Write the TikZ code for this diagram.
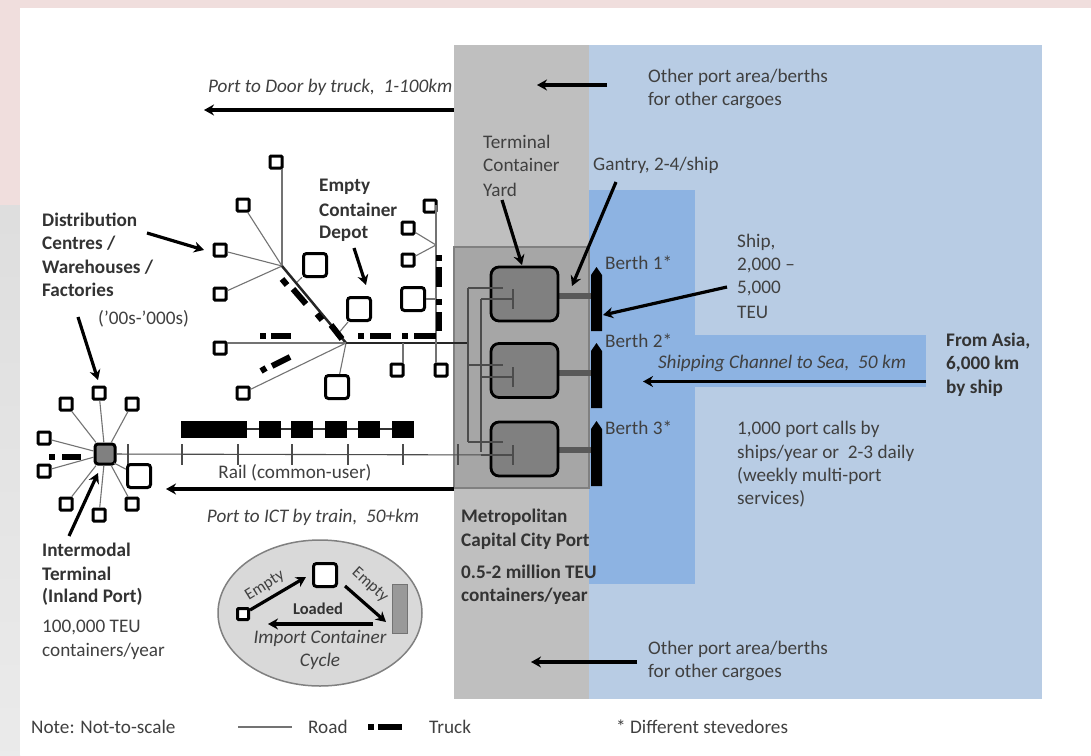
\documentclass[tikz,border=0pt]{standalone}
\usepackage{fontspec}
\setmainfont{Carlito}
\usetikzlibrary{arrows.meta,shapes.geometric}
\definecolor{txt}{HTML}{404040}
\definecolor{portgray}{HTML}{BFBFBF}
\definecolor{paleblue}{HTML}{B8CCE4}
\definecolor{midblue}{HTML}{8DB3E2}
\definecolor{pinkbg}{HTML}{F0DEDD}
\tikzset{
 lbl/.style={font=\fontsize{19.2}{22}\selectfont,text=txt,anchor=west,inner sep=0pt},
 lblb/.style={lbl,font=\fontsize{19.2}{22}\selectfont\bfseries,text=black!80},
 lbli/.style={lbl,font=\fontsize{19.2}{22}\selectfont\itshape},
 lblc/.style={lbl,anchor=center},
 smallsq/.style={draw=black,line width=3pt,fill=white,minimum size=12pt,inner sep=0pt,rounded corners=1pt},
 bigsq/.style={draw=black,line width=3pt,fill=white,minimum size=23pt,inner sep=0pt,rounded corners=3pt},
 yardbox/.style={draw=black,line width=2.8pt,fill=black!50,minimum width=67pt,minimum height=54pt,inner sep=0pt,rounded corners=8pt},
 road/.style={draw=black!55,line width=1.1pt},
 mainroad/.style={draw=black!85,line width=2.5pt},
 railline/.style={draw=black!70,line width=1.1pt},
 truckb/.style={draw=black,line width=6pt},
 fat/.style={draw=black,line width=3.2pt,-{Stealth[length=10pt,width=11pt]}},
 gantrybar/.style={draw=black!65,line width=6pt},
 shipshape/.style={fill=black},
 car/.style={fill=black,inner sep=0pt,minimum height=17pt},
}
\newcommand{\farrow}[3]{\coordinate (#1s) at (#2);\coordinate (#1e) at (#3);\draw[fat] (#1s) -- (#1e);}
\newcommand{\truck}[3]{\coordinate (#1a) at (#2);\coordinate (#1b) at (#3);\draw[truckb] (#1a) -- (#1b);}
\begin{document}
\begin{tikzpicture}[x=1pt,y=-1pt]
\useasboundingbox (0,0) rectangle (1091,755);
% page backgrounds
\fill[pinkbg] (0,0) rectangle (1091,755);
\shade[top color=black!13,bottom color=black!8] (0,205) rectangle (20,755);
\fill[white] (20,8) rectangle (1091,755);
% port and water areas
\fill[portgray] (454,45) rectangle (589,699);
\fill[paleblue] (589,45) rectangle (1042,699);
\fill[midblue] (589,190) rectangle (695,584);
\fill[midblue] (589,335) rectangle (926,387);
\draw[fill=black!35,draw=black!50,line width=1.2pt] (454,247) rectangle (589,488);
% gantries, ships
\foreach \n/\yy in {1/295.5,2/373,3/450}{
  \coordinate (gs\n) at (559,\yy); \coordinate (ge\n) at (591,\yy);
  \draw[gantrybar] (gs\n) -- (ge\n);
}
\fill[shipshape] (591,331) -- (591,275) -- (596.5,267) -- (602,275) -- (602,331) -- cycle;
\fill[shipshape] (591,408) -- (591,351) -- (596.5,343) -- (602,351) -- (602,408) -- cycle;
\fill[shipshape] (591,486) -- (591,429) -- (596.5,421) -- (602,429) -- (602,486) -- cycle;
% yards
\node[yardbox] (y1) at (524.5,294) {};
\node[yardbox] (y2) at (524.5,370.5) {};
\node[yardbox] (y3) at (524.5,449) {};
% city network nodes
\coordinate (J1) at (282,266);
\coordinate (J2) at (346,343);
\coordinate (J3) at (436,245);
\coordinate (Jt) at (468,343);
\node[smallsq] (s1) at (276,162) {};
\node[smallsq] (s2) at (243,205) {};
\node[smallsq] (s3) at (220,250) {};
\node[smallsq] (s4) at (220,294) {};
\node[smallsq] (s5) at (220,348) {};
\node[smallsq] (s6) at (243,393) {};
\node[smallsq] (s7) at (397,370) {};
\node[smallsq] (s8) at (441,370) {};
\node[smallsq] (s9) at (430,206) {};
\node[smallsq] (s10) at (408,228) {};
\node[smallsq] (s11) at (408,260) {};
\node[bigsq] (b1) at (315,265) {};
\node[bigsq] (b2) at (359,309) {};
\node[bigsq] (b3) at (337,387) {};
\node[bigsq] (b4) at (413,299) {};
% roads
\coordinate (r1) at (282,169);
\draw[road] (r1) -- (J1);
\draw[road] (s2) -- (J1);
\draw[road] (s3) -- (J1);
\draw[road] (s4) -- (J1);
\coordinate (bj1) at (297,282);
\draw[road] (b1) -- (bj1);
\coordinate (bj2) at (337,335);
\draw[road] (b2) -- (bj2);
\draw[mainroad] (J1) -- (J2);
\coordinate (r5) at (228,343);
\draw[road] (r5) -- (J2);
\draw[road] (s6) -- (J2);
\draw[road] (b3) -- (J2);
\draw[mainroad] (J2) -- (Jt);
\coordinate (k7) at (403,343);
\coordinate (k7b) at (403,363);
\draw[road] (k7) -- (k7b);
\coordinate (v9t) at (436,205);
\coordinate (v9b) at (436,363);
\draw[road] (v9t) -- (v9b);
\draw[road] (s10) -- (J3);
\draw[road] (s11) -- (J3);
\coordinate (v4) at (436,299);
\draw[road] (b4) -- (v4);
% trucks
\truck{ta}{282,279}{287,285}
\truck{tb}{293,289}{306,304}
\truck{tc}{317,314}{322,320}
\truck{td}{331,325}{342,339}
\truck{te}{358,336}{364,336}
\truck{tf}{370,336}{391,336}
\truck{tg}{402,336}{408,336}
\truck{th}{414,336}{436,336}
\truck{ti}{260,336}{266,336}
\truck{tj}{271,336}{291,336}
\truck{tk}{261,371}{266,368}
\truck{tl}{272,366}{290,357}
\truck{tm}{439,255}{439,261}
\truck{tn}{439,267}{439,287}
\truck{to}{439,299}{439,305}
\truck{tp}{439,312}{439,331}
% terminal internal lines
\coordinate (ra) at (468,288);
\coordinate (rb) at (468,442);
\draw[railline] (ra) -- (rb);
\coordinate (ra2) at (503,288);
\coordinate (rb2) at (503,365);
\coordinate (rc2) at (503,442);
\draw[railline] (ra) -- (ra2);
\draw[railline] (468,365) -- (rb2);
\draw[railline] (rb) -- (rc2);
\coordinate (qa) at (481,299);
\coordinate (qb) at (481,452);
\draw[railline] (qa) -- (qb);
\foreach \yy in {299,377,455}{
  \draw[railline] (481,\yy) -- (513,\yy);
  \draw[railline] (513,\yy-10) -- (513,\yy+10);
}
% rail
\node[draw=black,line width=3pt,fill=black!50,minimum size=20pt,inner sep=0pt,rounded corners=3pt] (term) at (105,454) {};
\coordinate (railend) at (513,455);
\draw[railline] (term) -- (railend);
\foreach \xx in {128,182,238,292,348,403,458}{
  \draw[railline] (\xx,444) -- (\xx,465);
}
\coordinate (tr1) at (181,429);\coordinate (tr2) at (413,429);
\draw[draw=black!80,line width=1.2pt] (tr1) -- (tr2);
\node[car,minimum width=66pt,anchor=west] (c0) at (181,429.5) {};
\node[car,minimum width=22pt,anchor=west] (c1) at (259,429.5) {};
\node[car,minimum width=22pt,anchor=west] (c2) at (291,429.5) {};
\node[car,minimum width=22pt,anchor=west] (c3) at (325,429.5) {};
\node[car,minimum width=22pt,anchor=west] (c4) at (358,429.5) {};
\node[car,minimum width=22pt,anchor=west] (c5) at (392,429.5) {};
% intermodal terminal spokes
\node[smallsq] (i1) at (99,393) {};
\node[smallsq] (i2) at (66,404) {};
\node[smallsq] (i3) at (132,404) {};
\node[smallsq] (i4) at (44,438) {};
\node[smallsq] (i5) at (44,471) {};
\node[smallsq] (i6) at (66,504) {};
\node[smallsq] (i7) at (99,515) {};
\node[smallsq] (i8) at (132,504) {};
\node[bigsq] (i9) at (139,476) {};
\foreach \n in {1,...,8}{\draw[road] (i\n) -- (term);}
\coordinate (i9j) at (114,463);
\draw[road] (i9) -- (i9j);
\truck{tq}{49,457}{55,457}
\truck{tr}{62,457}{81,457}
% big arrows
\farrow{a1}{454,110}{204,110}
\farrow{a2}{607,85}{537,85}
\farrow{a3}{637,662}{531,662}
\farrow{a4}{454,489}{166,489}
\farrow{a5}{926,381.5}{643,381.5}
\farrow{a6}{147,233}{204,250}
\farrow{a7}{78,317}{98,380}
\farrow{a8}{354,248}{366,285}
\farrow{a9}{69,536}{98,473}
\farrow{a10}{502,200}{522,265}
\farrow{a11}{616,182}{572,286}
\farrow{a12}{727,287}{603,315}
% cycle ellipse
\node[draw=black!50,line width=1.5pt,fill=black!15,ellipse,minimum width=204pt,minimum height=146pt,inner sep=0pt] (cyc) at (320,613) {};
\node[smallsq,minimum size=11pt] (cs) at (243,614) {};
\node[bigsq] (cb) at (325,575) {};
\node[fill=black!40,draw=black!55,line width=1pt,minimum width=15pt,minimum height=49pt,inner sep=0pt] (cr) at (399.5,608.5) {};
\farrow{c1}{250,610}{306,577}
\farrow{c2}{345,586}{386,622}
\farrow{c3}{373,624}{268,624}
\node[lblc,rotate=32,font=\fontsize{16.5}{18}\selectfont] (e1) at (265,586) {Empty};
\node[lblc,rotate=-42,font=\fontsize{16.5}{18}\selectfont] (e2) at (370,585) {Empty};
\node[lblb,anchor=center,font=\fontsize{16.5}{18}\selectfont\bfseries] (e3) at (318,609) {Loaded};
\node[lbli,anchor=center] (e4) at (320,638) {Import Container};
\node[lbli,anchor=center] (e5) at (320,661) {Cycle};
% labels
\node[lbli] (l1) at (208,87) {Port to Door by truck,\ \ 1-100km};
\node[lbl] (l2) at (648,77) {Other port area/berths};
\node[lbl] (l3) at (648,100) {for other cargoes};
\node[lbl] (l4) at (648,649) {Other port area/berths};
\node[lbl] (l5) at (648,672) {for other cargoes};
\node[lbl] (l6) at (483,142) {Terminal};
\node[lbl] (l7) at (483,165) {Container};
\node[lbl] (l8) at (483,190) {Yard};
\node[lbl] (l9) at (593,165) {Gantry, 2-4/ship};
\node[lblb] (l10) at (319,187) {Empty};
\node[lblb] (l11) at (319,210) {Container};
\node[lblb] (l12) at (319,234) {Depot};
\node[lblb] (l13) at (42,220) {Distribution};
\node[lblb] (l14) at (42,243) {Centres /};
\node[lblb] (l15) at (42,267) {Warehouses /};
\node[lblb] (l16) at (42,290) {Factories};
\node[lbl] (l17) at (98,319) {(’00s-’000s)};
\node[lblb] (l18) at (42,550) {Intermodal};
\node[lblb] (l19) at (42,574) {Terminal};
\node[lblb] (l20) at (42,597) {(Inland Port)};
\node[lbl] (l21) at (42,627) {100,000 TEU};
\node[lbl] (l22) at (42,651) {containers/year};
\node[lblc] (l23) at (295,473) {Rail (common-user)};
\node[lbli,anchor=center] (l24) at (313,517) {Port to ICT by train,\ \ 50+km};
\node[lblb] (l25) at (461,517) {Metropolitan};
\node[lblb] (l26) at (461,541) {Capital City Port};
\node[lblb] (l27) at (461,572) {0.5-2 million TEU};
\node[lblb] (l28) at (461,596) {containers/year};
\node[lbl] (l29) at (605,263) {Berth 1*};
\node[lbl] (l30) at (605,341) {Berth 2*};
\node[lbl] (l31) at (605,428) {Berth 3*};
\node[lbl] (l32) at (737,242) {Ship,};
\node[lbl] (l33) at (737,265) {2,000 –};
\node[lbl] (l34) at (737,288) {5,000};
\node[lbl] (l35) at (737,312) {TEU};
\node[lbli,anchor=center] (l36) at (782,363) {Shipping Channel to Sea,\ \ 50 km};
\node[lblb] (l37) at (946,341) {From Asia,};
\node[lblb] (l38) at (946,364) {6,000 km};
\node[lblb] (l39) at (946,388) {by ship};
\node[lbl] (l40) at (737,429) {1,000 port calls by};
\node[lbl] (l41) at (737,453) {ships/year or\ \ 2-3 daily};
\node[lbl] (l42) at (737,476) {(weekly multi-port};
\node[lbl] (l43) at (737,499) {services)};
% legend
\node[lbl] (n1) at (31,727) {Note: Not-to-scale};
\coordinate (lr1) at (238,727);\coordinate (lr2) at (292,727);
\draw[road,line width=1.4pt] (lr1) -- (lr2);
\node[lbl] (n2) at (308,727) {Road};
\truck{tz}{368,727}{374,727}
\truck{ty}{378,727}{402,727}
\node[lbl] (n3) at (429,727) {Truck};
\node[lbl] (n4) at (616,727) {* Different stevedores};
\end{tikzpicture}
\end{document}
